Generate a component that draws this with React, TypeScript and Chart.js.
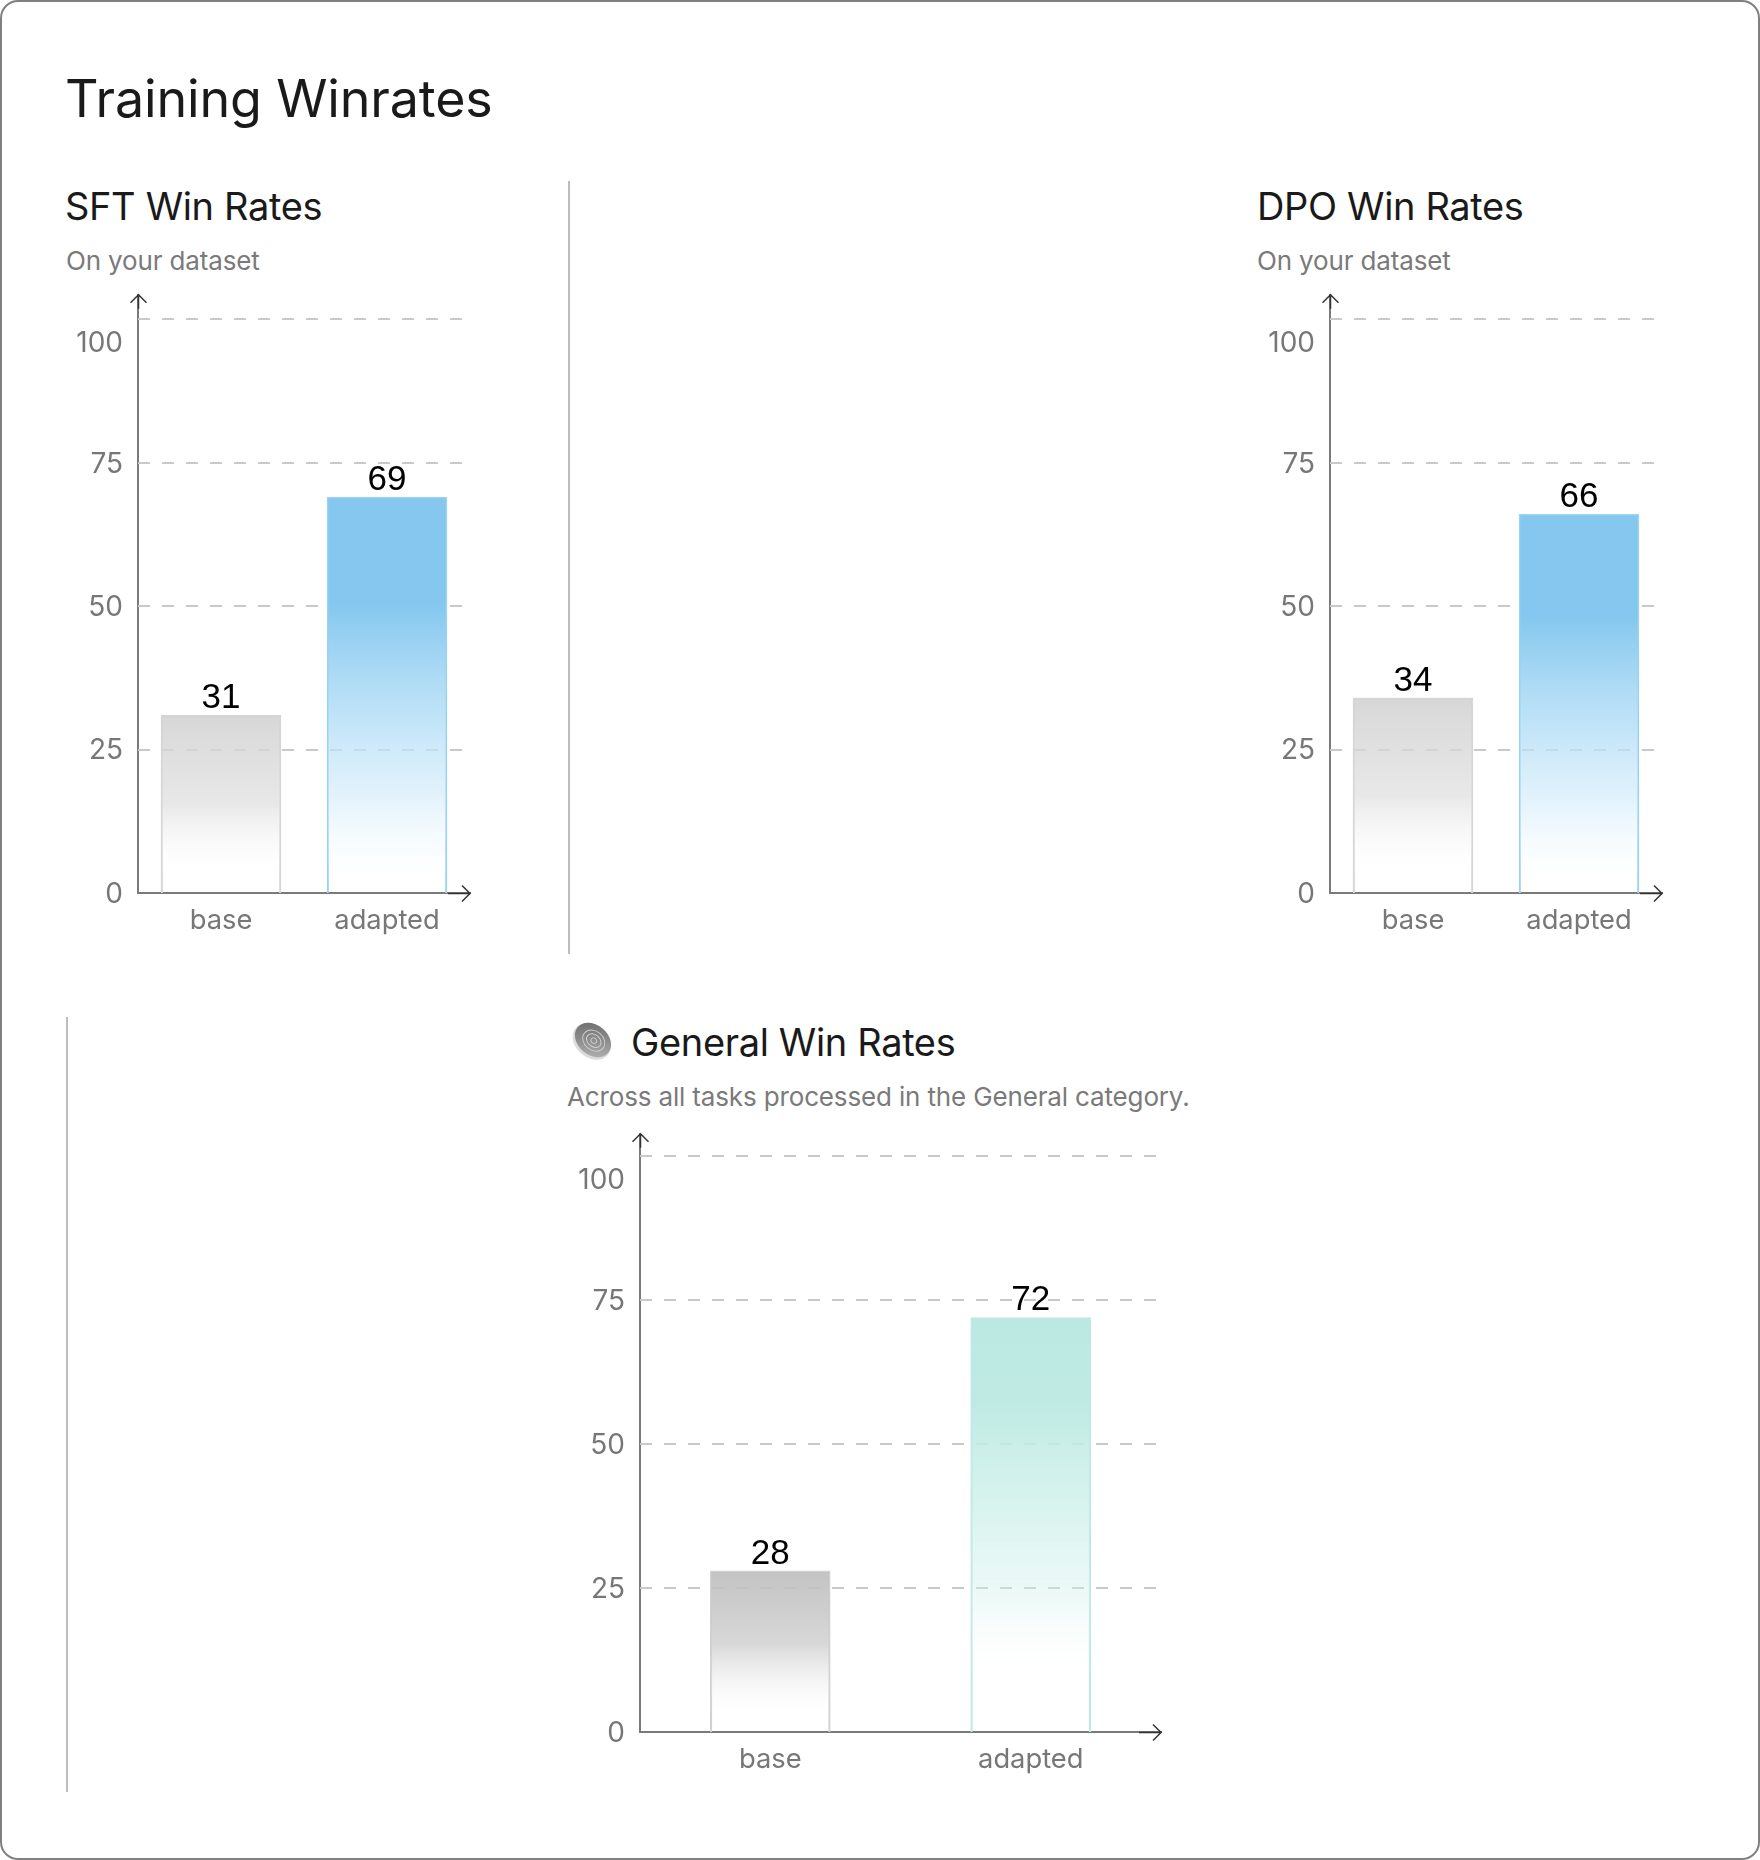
import React, { useEffect, useRef } from "react";
import { Chart, registerables } from "chart.js";

Chart.register(...registerables);

const categories = ["base", "adapted"];
const sftValues = [31, 69];
const dpoValues = [34, 66];
const generalValues = [28, 72];
const yTicks = [0, 25, 50, 75, 100];

const FONT = "Inter, 'Noto Sans', sans-serif";
const VALUE_FONT = "'Liberation Sans', Arial, sans-serif";
const MARGIN = { left: 100, top: 25, right: 30, bottom: 80 };

const GREY_LIGHT = [[0, "rgba(208,208,208,0.85)"], [0.5, "rgba(222,222,222,0.7)"], [0.92, "rgba(255,255,255,0)"], [1, "rgba(255,255,255,0)"]];
const GREY_DARK = [[0, "rgba(190,190,190,0.92)"], [0.45, "rgba(205,205,205,0.8)"], [0.92, "rgba(255,255,255,0)"], [1, "rgba(255,255,255,0)"]];
const BLUE = [[0, "rgba(133,199,238,1)"], [0.27, "rgba(133,199,238,1)"], [0.55, "rgba(175,220,246,0.8)"], [0.75, "rgba(205,233,250,0.6)"], [1, "rgba(255,255,255,0)"]];
const TEAL = [[0, "rgba(187,233,226,1)"], [0.2, "rgba(190,234,227,1)"], [0.65, "rgba(205,240,234,0.42)"], [0.88, "rgba(255,255,255,0)"], [1, "rgba(255,255,255,0)"]];

const chartDecor = (gridLength: number) => ({
  id: "decor",
  beforeDraw(chart: any) {
    const items = chart.scales.y.getLabelItems();
    for (const item of items) {
      if (!item.options.__moved) {
        const shift = item.label === "100" ? 24 : 1.5;
        item.options.translation = [item.options.translation[0], item.options.translation[1] + shift];
        item.options.__moved = true;
      }
    }
  },
  beforeDatasetsDraw(chart: any) {
    const { ctx, chartArea, scales } = chart;
    ctx.save();
    ctx.strokeStyle = "#c9c9c9";
    ctx.lineWidth = 2;
    ctx.setLineDash([12, 12]);
    for (const t of yTicks.slice(1)) {
      const y = Math.round(scales.y.getPixelForValue(t));
      ctx.beginPath();
      ctx.moveTo(chartArea.left, y);
      ctx.lineTo(chartArea.left + gridLength, y);
      ctx.stroke();
    }
    ctx.restore();
  },
  afterDatasetsDraw(chart: any) {
    const { ctx, chartArea, scales } = chart;
    const values = chart.data.datasets[0].data;
    ctx.save();
    ctx.font = `35px ${VALUE_FONT}`;
    ctx.fillStyle = "#000";
    ctx.textAlign = "center";
    ctx.textBaseline = "alphabetic";
    values.forEach((v: number, i: number) => {
      ctx.fillText(String(v), scales.x.getPixelForValue(i), scales.y.getPixelForValue(v) - 7);
    });
    ctx.strokeStyle = "#333";
    ctx.lineWidth = 1.5;
    const ax = chartArea.left + 0.5;
    const ay = chartArea.bottom + 0.5;
    ctx.beginPath();
    ctx.moveTo(ax - 8, chartArea.top + 8);
    ctx.lineTo(ax, chartArea.top);
    ctx.lineTo(ax + 8, chartArea.top + 8);
    ctx.moveTo(ax, chartArea.top);
    ctx.lineTo(ax, chartArea.top + 14);
    ctx.moveTo(chartArea.right - 22, ay);
    ctx.lineTo(chartArea.right, ay);
    ctx.moveTo(chartArea.right - 8, ay - 8);
    ctx.lineTo(chartArea.right, ay);
    ctx.lineTo(chartArea.right - 8, ay + 8);
    ctx.stroke();
    ctx.restore();
  },
});

function BarChart({ values, plot, fills, borders, gridLength, yMax }: any) {
  const ref = useRef<HTMLCanvasElement>(null);
  useEffect(() => {
    const gradient = (c: any) => {
      const chart = c.chart;
      const { ctx, scales } = chart;
      if (c.type !== "data" || !scales.y) return "transparent";
      const top = scales.y.getPixelForValue(c.raw);
      const bottom = scales.y.getPixelForValue(0);
      if (!isFinite(top) || !isFinite(bottom)) return "transparent";
      const g = ctx.createLinearGradient(0, top, 0, bottom);
      for (const [stop, col] of fills[c.dataIndex]) g.addColorStop(stop, col);
      return g;
    };
    const chart = new Chart(ref.current!, {
      type: "bar",
      data: {
        labels: categories,
        datasets: [
          {
            data: values,
            barThickness: 120,
            backgroundColor: gradient,
            borderColor: borders,
            borderWidth: { left: 1.5, right: 1.5, top: 1.5, bottom: 0 },
            borderSkipped: false,
          },
        ],
      },
      options: {
        animation: false,
        responsive: false,
        maintainAspectRatio: false,
        layout: { padding: { top: MARGIN.top, right: MARGIN.right, left: 0, bottom: 0 } },
        plugins: { legend: { display: false }, tooltip: { enabled: false } },
        scales: {
          x: {
            grid: { display: false, drawTicks: false },
            border: { display: true, color: "#7a7a7a", width: 2 },
            afterFit: (s: any) => { s.height = MARGIN.bottom; },
            ticks: { color: "#777", padding: 11, maxRotation: 0, autoSkip: false, font: { family: FONT, size: 27.3 } },
          },
          y: {
            min: 0,
            max: yMax,
            grid: { display: false, drawTicks: false },
            border: { display: true, color: "#7a7a7a", width: 2 },
            afterFit: (s: any) => { s.width = MARGIN.left; },
            afterBuildTicks: (s: any) => { s.ticks = yTicks.map((value) => ({ value })); },
            ticks: { color: "#777", padding: 15, font: { family: FONT, size: 28 } },
          },
        },
      },
      plugins: [chartDecor(gridLength)],
    } as any);
    return () => chart.destroy();
  }, []);
  const w = plot.right - plot.left + MARGIN.left + MARGIN.right;
  const h = plot.bottom - plot.top + MARGIN.top + MARGIN.bottom;
  return (
    <canvas
      ref={ref}
      width={w}
      height={h}
      style={{ position: "absolute", left: plot.left - MARGIN.left, top: plot.top - MARGIN.top, width: w, height: h }}
    />
  );
}

const text = (left: number, cy: number, size: number, color: string, spacing: string): React.CSSProperties => ({
  position: "absolute",
  left,
  top: cy - size,
  height: size * 2,
  lineHeight: `${size * 2}px`,
  fontSize: size,
  color,
  letterSpacing: spacing,
  fontFamily: FONT,
  whiteSpace: "nowrap",
});

const H2 = 38;
const H2S = "-0.35px";
const SUB = 26;
const SUBS = "-0.15px";

export default function App() {
  return (
    <div style={{ position: "absolute", left: 0, top: 0, width: 1760, height: 1860, boxSizing: "border-box", border: "2px solid #808080", borderRadius: 18, background: "#fff", overflow: "hidden" }}>
      <div style={{ position: "absolute", left: -2, top: -2, width: 1760, height: 1860 }}>
        <div style={text(65, 99, 52, "#1a1a1a", "-0.15px")}>Training Winrates</div>

        <div style={text(65, 206, H2, "#1a1a1a", H2S)}>SFT Win Rates</div>
        <div style={text(66, 261, SUB, "#7a7a7a", SUBS)}>On your dataset</div>
        <BarChart values={sftValues} plot={{ left: 138, top: 288, right: 470, bottom: 893 }} fills={[GREY_LIGHT, BLUE]} borders={["#d6d6d6", "#9dd2f1"]} gridLength={324} yMax={104.25} />

        <div style={{ position: "absolute", left: 568, top: 181, width: 2, height: 773, background: "#bdbdbd" }} />

        <div style={text(1257, 206, H2, "#1a1a1a", H2S)}>DPO Win Rates</div>
        <div style={text(1257, 261, SUB, "#7a7a7a", SUBS)}>On your dataset</div>
        <BarChart values={dpoValues} plot={{ left: 1330, top: 288, right: 1662, bottom: 893 }} fills={[GREY_LIGHT, BLUE]} borders={["#d6d6d6", "#9dd2f1"]} gridLength={324} yMax={104.25} />

        <div style={{ position: "absolute", left: 66, top: 1017, width: 2, height: 775, background: "#bdbdbd" }} />

        <svg width="44" height="44" viewBox="0 0 44 44" style={{ position: "absolute", left: 571, top: 1018 }}>
          <defs>
            <linearGradient id="disc" x1="0" y1="0" x2="1" y2="1">
              <stop offset="0" stopColor="#666" />
              <stop offset="0.6" stopColor="#949494" />
              <stop offset="1" stopColor="#bcbcbc" />
            </linearGradient>
          </defs>
          <g transform="rotate(40 22 22)">
            <ellipse cx="22" cy="24" rx="21" ry="16" fill="#dcdcdc" />
            <ellipse cx="22" cy="22" rx="20" ry="15" fill="url(#disc)" />
            <ellipse cx="23" cy="22" rx="12" ry="9.5" fill="none" stroke="#c9c9c9" strokeWidth="1" />
            <ellipse cx="23" cy="22" rx="8" ry="6" fill="none" stroke="#d4d4d4" strokeWidth="1" />
            <ellipse cx="23" cy="22" rx="3" ry="2.5" fill="none" stroke="#c9c9c9" strokeWidth="1" />
          </g>
        </svg>
        <div style={text(631, 1042, H2, "#1a1a1a", H2S)}>General Win Rates</div>
        <div style={text(567, 1097, SUB, "#7a7a7a", SUBS)}>Across all tasks processed in the General category.</div>
        <BarChart values={generalValues} plot={{ left: 640, top: 1127, right: 1161, bottom: 1732 }} fills={[GREY_DARK, TEAL]} borders={["#d2d2d2", "#bfe9e3"]} gridLength={516} yMax={103.9} />
      </div>
    </div>
  );
}
